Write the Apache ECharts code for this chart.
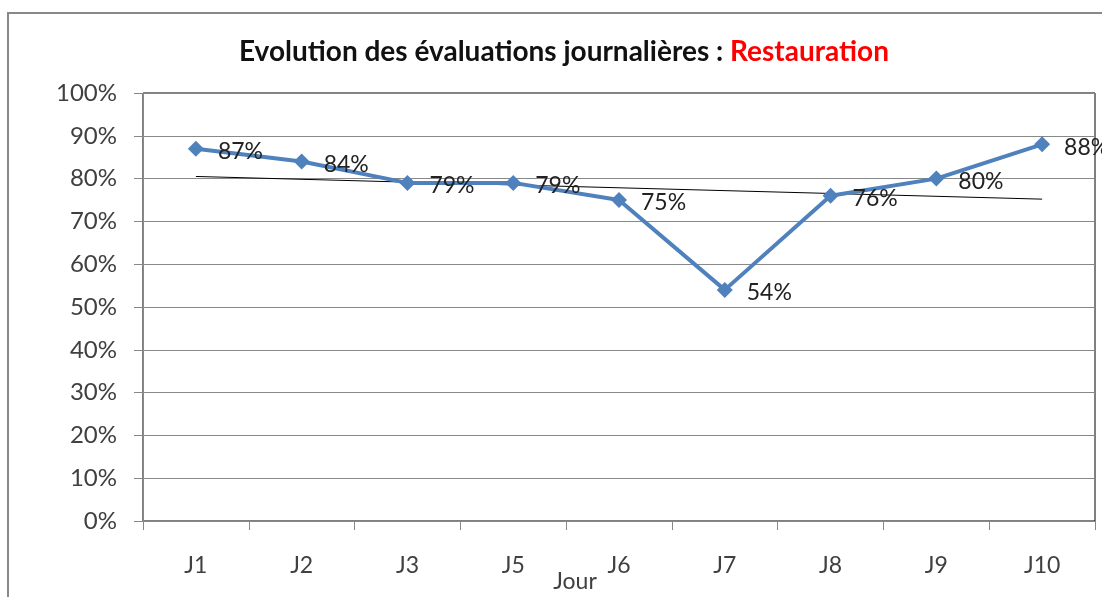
<!DOCTYPE html>
<html>
<head>
<meta charset="utf-8">
<script src="https://cdn.jsdelivr.net/npm/echarts@6/dist/echarts.min.js"></script>
<style>
  html, body { margin: 0; padding: 0; background: #fff; }
  #chart { width: 1102px; height: 597px; }
</style>
</head>
<body>
<div id="chart"></div>
<script>
// jours et évaluations (%)
var jours = ['J1', 'J2', 'J3', 'J5', 'J6', 'J7', 'J8', 'J9', 'J10'];
var evaluations = [87, 84, 79, 79, 75, 54, 76, 80, 88];
// courbe de tendance linéaire (début / fin)
var tendance = [80.5, null, null, null, null, null, null, null, 75.2];
var yTicks = [0, 10, 20, 30, 40, 50, 60, 70, 80, 90, 100];

var chart = echarts.init(document.getElementById('chart'));
var police = 'Lato, "Liberation Sans", sans-serif';

chart.setOption({
  animation: false,
  textStyle: { fontFamily: police },
  title: {
    text: '{a|Evolution des évaluations journalières : }{b|Restauration}',
    left: 234,
    top: 33,
    textStyle: {
      rich: {
        a: { fontFamily: police, fontSize: 28, fontWeight: 'bold', color: '#111' },
        b: { fontFamily: police, fontSize: 28, fontWeight: 'bold', color: '#ff0000' }
      }
    }
  },
  graphic: [{
    type: 'rect',
    shape: { x: 8, y: 13, width: 1110, height: 600 },
    style: { fill: 'none', stroke: '#888', lineWidth: 2 },
    silent: true
  }],
  grid: {
    left: 143, right: 7, top: 93, bottom: 76,
    outerBoundsMode: 'none',
    containLabel: false,
    show: true, borderColor: '#000', borderWidth: 1, backgroundColor: 'transparent'
  },
  xAxis: {
    type: 'category',
    data: jours,
    boundaryGap: true,
    name: 'Jour',
    nameLocation: 'middle',
    nameGap: 49,
    nameMoveOverlap: false,
    nameTextStyle: { fontSize: 23, color: '#404040', fontFamily: police, padding: [0, 88, 0, 0] },
    axisLine: { lineStyle: { color: '#888', width: 1 } },
    axisTick: { show: true, length: 9, interval: 0, lineStyle: { color: '#888' } },
    axisLabel: { fontSize: 23, color: '#404040', margin: 33, fontFamily: police }
  },
  yAxis: {
    type: 'value',
    min: 0, max: 100, interval: 10,
    axisLine: { show: true, lineStyle: { color: '#888', width: 1 } },
    axisTick: { show: true, length: 9, lineStyle: { color: '#888' } },
    splitLine: { lineStyle: { color: '#888', width: 1 } },
    axisLabel: {
      fontSize: 24, color: '#404040', margin: 26, fontFamily: police,
      formatter: function (v) { return yTicks.indexOf(v) >= 0 ? v + '%' : ''; }
    }
  },
  series: [
    {
      name: 'Tendance',
      type: 'line',
      data: tendance,
      connectNulls: true,
      symbol: 'none',
      lineStyle: { color: '#000', width: 1 },
      z: 1
    },
    {
      name: 'Restauration',
      type: 'line',
      data: evaluations,
      symbol: 'diamond',
      symbolSize: 16,
      itemStyle: { color: '#4f81bd' },
      lineStyle: { color: '#4f81bd', width: 4 },
      label: {
        show: true,
        position: 'right',
        distance: 14,
        offset: [0, 3],
        fontSize: 23,
        color: '#222',
        fontFamily: police,
        formatter: '{c}%'
      },
      z: 2
    }
  ]
});
</script>
</body>
</html>
